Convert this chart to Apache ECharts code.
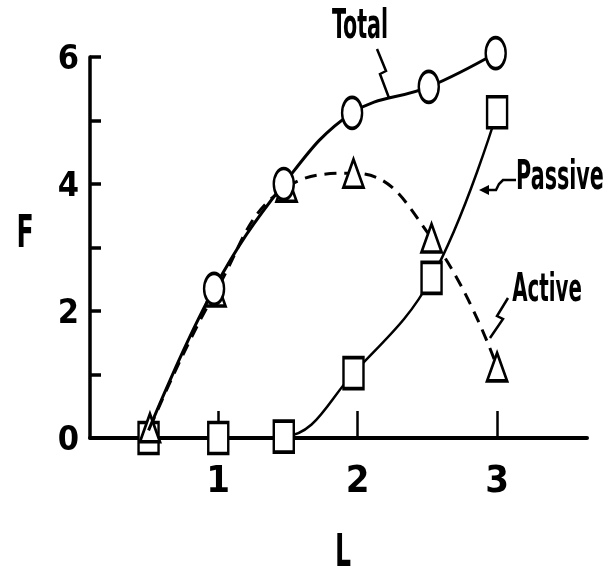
<!DOCTYPE html>
<html>
<head>
<meta charset="utf-8">
<script src="https://cdn.jsdelivr.net/npm/echarts@6/dist/echarts.min.js"></script>
<style>
html,body{margin:0;padding:0;background:#fff;}
#chart{width:608px;height:573px;}
</style>
</head>
<body>
<div id="chart"></div>
<script>
// Data (L vs F)
var totalData   = [[0.50, 0.12], [0.97, 2.35], [1.47, 4.00], [1.96, 5.12], [2.51, 5.53], [2.99, 6.06]];
var activeData  = [[0.51, 0.16], [0.98, 2.30], [1.49, 3.95], [1.97, 4.17], [2.53, 3.15], [3.00, 1.12]];
var passiveData = [[0.50, 0.00], [1.00, 0.00], [1.47, 0.02], [1.97, 1.02], [2.53, 2.52], [3.00, 5.13]];
var xTicks = [1, 2, 3];
var yTicks = [0, 1, 2, 3, 4, 5, 6];
var yLabels = [0, 2, 4, 6];

var NARROW = "'Liberation Sans Narrow', 'DejaVu Sans Condensed', 'Liberation Sans', sans-serif";
var chart = echarts.init(document.getElementById('chart'));

var totalSeriesData = totalData.map(function (d, i) {
  return i === 0 ? { value: d, symbol: 'none' } : { value: d };
});

var option = {
  animation: false,
  backgroundColor: '#ffffff',
  grid: { left: 90, top: 57, right: 21, bottom: 135, containLabel: false },
  xAxis: {
    type: 'value',
    min: 0.08,
    max: 3.645,
    splitLine: { show: false },
    axisLine: { onZero: false, lineStyle: { color: '#000', width: 4 } },
    axisTick: { show: true, inside: true, length: 27, customValues: xTicks, lineStyle: { color: '#000', width: 2.5 } },
    axisLabel: { customValues: xTicks, margin: 25, color: '#000', fontFamily: NARROW, fontWeight: 'bold', fontSize: 38 }
  },
  yAxis: {
    type: 'value',
    min: 0,
    max: 6,
    interval: 1,
    splitLine: { show: false },
    axisLine: { onZero: false, lineStyle: { color: '#000', width: 3.5 } },
    axisTick: { show: true, inside: true, length: 11, customValues: yTicks, lineStyle: { color: '#000', width: 3.5 } },
    axisLabel: { customValues: yLabels, margin: 11, color: '#000', fontFamily: NARROW, fontWeight: 'bold', fontSize: 34, verticalAlign: 'top', lineHeight: 6 }
  },
  series: [
    {
      name: 'Passive', type: 'line', smooth: 0.4, data: passiveData, clip: false,
      symbol: 'rect', symbolSize: [20, 31],
      lineStyle: { color: '#000', width: 2.5 },
      itemStyle: { color: '#fff', borderColor: '#000', borderWidth: 3 }, z: 3
    },
    {
      name: 'Active', type: 'line', smooth: 0.45, data: activeData, clip: false,
      symbol: 'triangle', symbolSize: [20, 28],
      lineStyle: { color: '#000', width: 3, type: [12, 8] },
      itemStyle: { color: '#fff', borderColor: '#000', borderWidth: 3 }, z: 4
    },
    {
      name: 'Total', type: 'line', smooth: 0.4, data: totalSeriesData, clip: false,
      symbol: 'circle', symbolSize: [20, 31],
      lineStyle: { color: '#000', width: 3 },
      itemStyle: { color: '#fff', borderColor: '#000', borderWidth: 3 }, z: 5
    }
  ],
  graphic: [
    { type: 'text', x: 360, y: 28, scaleY: 1.75, style: { text: 'Total', fill: '#000', font: 'bold 23px ' + NARROW, textAlign: 'center', textVerticalAlign: 'middle' } },
    { type: 'text', x: 560, y: 179, scaleY: 1.75, style: { text: 'Passive', fill: '#000', font: 'bold 23px ' + NARROW, textAlign: 'center', textVerticalAlign: 'middle' } },
    { type: 'text', x: 547, y: 291, scaleY: 1.75, style: { text: 'Active', fill: '#000', font: 'bold 22px ' + NARROW, textAlign: 'center', textVerticalAlign: 'middle' } },
    { type: 'text', x: 25, y: 235, scaleY: 1.6, style: { text: 'F', fill: '#000', font: 'bold 28px ' + NARROW, textAlign: 'center', textVerticalAlign: 'middle' } },
    { type: 'text', x: 343, y: 554, scaleY: 1.6, style: { text: 'L', fill: '#000', font: 'bold 28px ' + NARROW, textAlign: 'center', textVerticalAlign: 'middle' } },
    { type: 'polyline', shape: { points: [[377, 49], [386, 71], [380, 74], [389, 98]] }, style: { stroke: '#000', lineWidth: 2.5, fill: null } },
    { type: 'polyline', shape: { points: [[486, 190], [496, 190], [499, 184], [503, 180], [516, 180]] }, style: { stroke: '#000', lineWidth: 2.5, fill: null } },
    { type: 'polygon', shape: { points: [[479, 190], [489, 185], [489, 195]] }, style: { fill: '#000' } },
    { type: 'polyline', shape: { points: [[508, 298], [497, 316], [503, 319], [490, 338]] }, style: { stroke: '#000', lineWidth: 2.5, fill: null } }
  ]
};
chart.setOption(option);
</script>
</body>
</html>
